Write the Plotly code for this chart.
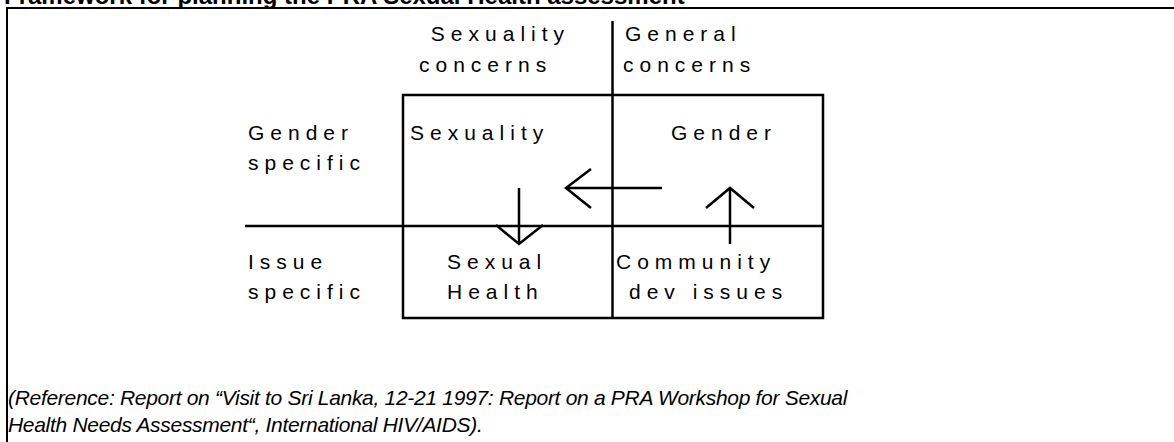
import plotly.graph_objects as go

# ---- text content ----
title_text = "Framework for planning the PRA Sexual Health assessment"
col_headers = ["\u00a0Sexuality", "concerns", "General", "concerns"]
row_headers = ["Gender", "specific", "Issue", "specific"]
cell_labels = ["Sexuality", "Gender", "Sexual", "Health", "Community", "dev issues"]
reference_lines = [
    "(Reference: Report on \u201cVisit to Sri Lanka, 12-21 1997: Report on a PRA Workshop for Sexual",
    "Health Needs Assessment\u201c, International HIV/AIDS).",
]

W, H = 1174, 442
fig = go.Figure()

# ---- diagram geometry ----
BOX_L, BOX_R, BOX_T, BOX_B = 403, 823, 95, 318
MID_X, MID_Y = 612.5, 226
LINE_W = 2.5

def line(x0, y0, x1, y1, w=LINE_W):
    fig.add_shape(type="line", x0=x0, y0=y0, x1=x1, y1=y1, xref="x", yref="y",
                  line=dict(color="black", width=w))

# outer frame (top and left visible)
fig.add_shape(type="rect", x0=7, y0=8, x1=W + 20, y1=H + 20, xref="x", yref="y",
              line=dict(color="black", width=2))
# box
fig.add_shape(type="rect", x0=BOX_L, y0=BOX_T, x1=BOX_R, y1=BOX_B, xref="x", yref="y",
              line=dict(color="black", width=LINE_W))
line(MID_X, 21, MID_X, BOX_B)
line(245, MID_Y, BOX_R, MID_Y)

def path(d):
    fig.add_shape(type="path", path=d, xref="x", yref="y",
                  line=dict(color="black", width=LINE_W))

# arrows
path("M662,188 L566,188 M591,169 L566,188 L591,208")
path("M519,188 L519,244 M496,225 L519,244 L543,225")
path("M730,244 L730,188 M706,208 L730,188 L754,208")

FONT = dict(family="Liberation Sans, Arial, sans-serif", size=21, color="black")

label_items = []
# column headers
label_items += [(col_headers[0], 418, 33), (col_headers[1], 418, 64),
                (col_headers[2], 624, 33), (col_headers[3], 622, 64)]
# row headers
label_items += [(row_headers[0], 247, 132), (row_headers[1], 247, 162),
                (row_headers[2], 247, 261), (row_headers[3], 247, 291)]
# cell labels
label_items += [(cell_labels[0], 409, 132), (cell_labels[1], 670, 132),
                (cell_labels[2], 446, 261), (cell_labels[3], 446, 291),
                (cell_labels[4], 615, 261), (cell_labels[5], 628, 291)]

for txt, x, y in label_items:
    fig.add_annotation(text=txt, x=x, y=y, xref="x", yref="y", xanchor="left",
                       yanchor="middle", align="left", showarrow=False, font=FONT,
                       borderpad=0)
N_LABELS = len(label_items)

# reference text (index N_LABELS)
fig.add_annotation(text="<i>" + "<br>".join(reference_lines) + "</i>", x=7, y=411,
                   xref="x", yref="y", xanchor="left", yanchor="middle", align="left",
                   showarrow=False, borderpad=0,
                   font=dict(family="Liberation Sans Narrow, Arial Narrow, Liberation Sans, sans-serif",
                             size=21, color="black"))

# title (cut off at top of the page, as in the reference)
fig.add_annotation(text="<b>" + title_text + "</b>", x=3 / W, y=1 + 5 / H, xref="paper", yref="paper",
                   xanchor="left", yanchor="middle", showarrow=False, borderpad=0,
                   font=dict(family="Liberation Sans, Arial, sans-serif", size=24, color="black"))

fig.update_xaxes(range=[0, W], visible=False, fixedrange=True)
fig.update_yaxes(range=[H, 0], visible=False, fixedrange=True)
fig.update_layout(width=W, height=H, margin=dict(l=0, r=0, t=0, b=0),
                  plot_bgcolor="white", paper_bgcolor="white", showlegend=False)

post = """
document.body.style.margin = '0';
document.body.style.overflow = 'hidden';
var gd = document.getElementById('{plot_id}');
function ls(){
  gd.querySelectorAll('g.annotation').forEach(function(g){
    var i = +g.getAttribute('data-index');
    var t = g.querySelector('text');
    if (!t) return;
    if (i < %d) { t.style.letterSpacing = '6px'; }
    else if (i === %d) { t.style.letterSpacing = '-0.3px'; }
  });
}
ls();
gd.on('plotly_afterplot', ls);
""" % (N_LABELS, N_LABELS)

fig.write_html("out.html", post_script=post, config={"displayModeBar": False, "staticPlot": True})
